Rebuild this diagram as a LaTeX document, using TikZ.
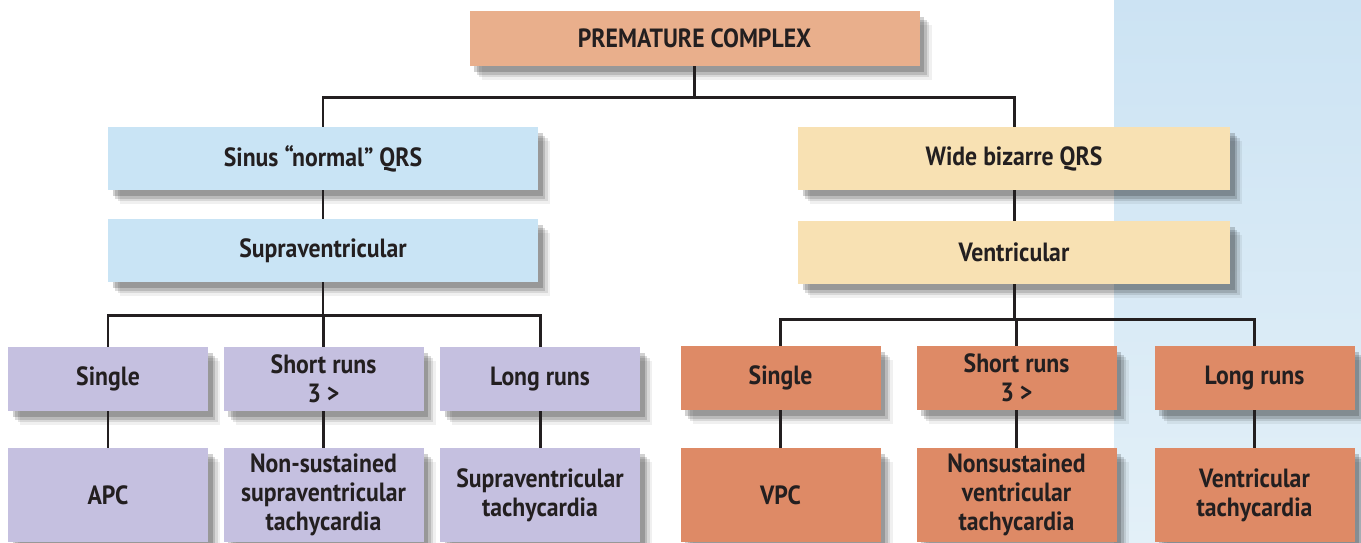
\documentclass[tikz,border=0pt]{standalone}
\usepackage{xcolor}
\usepackage{fontspec}
\setmainfont{PT Sans}[FakeStretch=0.9]
\usepackage{tikz}
\usetikzlibrary{shadows,positioning,calc}

\definecolor{topfill}{HTML}{E9AF8C}
\definecolor{bluefill}{HTML}{C9E4F5}
\definecolor{yellowfill}{HTML}{F8E1B3}
\definecolor{lilacfill}{HTML}{C5C0E0}
\definecolor{orangefill}{HTML}{DE8A66}
\definecolor{inkgray}{HTML}{231F20}
\definecolor{paneltop}{HTML}{CCE3F3}
\definecolor{panelbot}{HTML}{E3F0F8}

\begin{document}
\begin{tikzpicture}[
  softshadow/.style={
    drop shadow={shadow xshift=0.24cm, shadow yshift=-0.28cm, fill=black, opacity=0.06},
    drop shadow={shadow xshift=0.19cm, shadow yshift=-0.22cm, fill=black, opacity=0.10},
    drop shadow={shadow xshift=0.14cm, shadow yshift=-0.17cm, fill=black, opacity=0.14},
    drop shadow={shadow xshift=0.09cm, shadow yshift=-0.12cm, fill=black, opacity=0.18}},
  box/.style={rectangle, align=center, inner sep=2pt, text=inkgray,
    font=\bfseries\fontsize{15}{16.5}\selectfont, softshadow},
  link/.style={line width=1.7pt, draw=inkgray}
]

% Page frame and blue side panel
\useasboundingbox (0,0) rectangle (27.22,-10.84);
\shade[top color=paneltop, bottom color=panelbot] (22.28,0) rectangle (27.22,-10.84);

% Root
\node[box, fill=topfill, minimum width=9.0cm, minimum height=1.1cm] (root) at (13.89,-0.77) {PREMATURE COMPLEX};

% Left branch
\node[box, fill=bluefill, minimum width=8.6cm, minimum height=1.26cm] (sinus) at (6.46,-3.17) {Sinus ``normal'' QRS};
\node[box, fill=bluefill, minimum width=8.6cm, minimum height=1.26cm] (supra) at (6.46,-5.01) {Supraventricular};

% Right branch
\node[box, fill=yellowfill, minimum width=8.64cm, minimum height=1.26cm] (wide) at (20.28,-3.17) {Wide bizarre QRS};
\node[box, fill=yellowfill, minimum width=8.64cm, minimum height=1.26cm] (vent) at (20.28,-5.05) {Ventricular};

% Supraventricular kinds
\node[box, fill=lilacfill, minimum width=4.0cm, minimum height=1.28cm] (lsingle) at (2.16,-7.58) {Single};
\node[box, fill=lilacfill, minimum width=4.0cm, minimum height=1.28cm] (lshort) at (6.47,-7.58) {Short runs\\3 >};
\node[box, fill=lilacfill, minimum width=4.0cm, minimum height=1.28cm] (llong) at (10.8,-7.58) {Long runs};
\node[box, fill=lilacfill, minimum width=4.0cm, minimum height=1.88cm] (apc) at (2.16,-9.9) {APC};
\node[box, fill=lilacfill, minimum width=4.0cm, minimum height=1.88cm] (nsvt) at (6.47,-9.9) {Non-sustained\\supraventricular\\tachycardia};
\node[box, fill=lilacfill, minimum width=4.0cm, minimum height=1.88cm] (svt) at (10.8,-9.9) {Supraventricular\\tachycardia};

% Ventricular kinds
\node[box, fill=orangefill, minimum width=4.0cm, minimum height=1.28cm] (rsingle) at (15.61,-7.56) {Single};
\node[box, fill=orangefill, minimum width=4.0cm, minimum height=1.28cm] (rshort) at (20.33,-7.56) {Short runs\\3 >};
\node[box, fill=orangefill, minimum width=4.0cm, minimum height=1.28cm] (rlong) at (25.09,-7.56) {Long runs};
\node[box, fill=orangefill, minimum width=4.0cm, minimum height=1.88cm] (vpc) at (15.61,-9.9) {VPC};
\node[box, fill=orangefill, minimum width=4.0cm, minimum height=1.88cm] (nsv) at (20.33,-9.9) {Nonsustained\\ventricular\\tachycardia};
\node[box, fill=orangefill, minimum width=4.0cm, minimum height=1.88cm] (vt) at (25.09,-9.9) {Ventricular\\tachycardia};

% Bus heights
\coordinate (topbus) at (0,-1.94);
\coordinate (lbus) at (0,-6.3);
\coordinate (rbus) at (0,-6.38);

% Tree connections
\draw[link] (root.south) -- (root.south |- topbus);
\draw[link] (sinus.north) |- (wide.north |- topbus) -- (wide.north);
\draw[link] (supra.south) -- (supra.south |- lbus);
\draw[link] (lsingle.north) |- (llong.north |- lbus) -- (llong.north);
\draw[link] (lshort.north) -- (lshort.north |- lbus);
\draw[link] (vent.south) -- (vent.south |- rbus);
\draw[link] (rsingle.north) |- (rlong.north |- rbus) -- (rlong.north);
\draw[link] (rshort.north) -- (rshort.north |- rbus);

% Straight links
\foreach \from/\to in {sinus/supra, wide/vent, lsingle/apc, lshort/nsvt, llong/svt, rsingle/vpc, rshort/nsv, rlong/vt}
    \draw[link] (\from) -- (\to);

\end{tikzpicture}
\end{document}
